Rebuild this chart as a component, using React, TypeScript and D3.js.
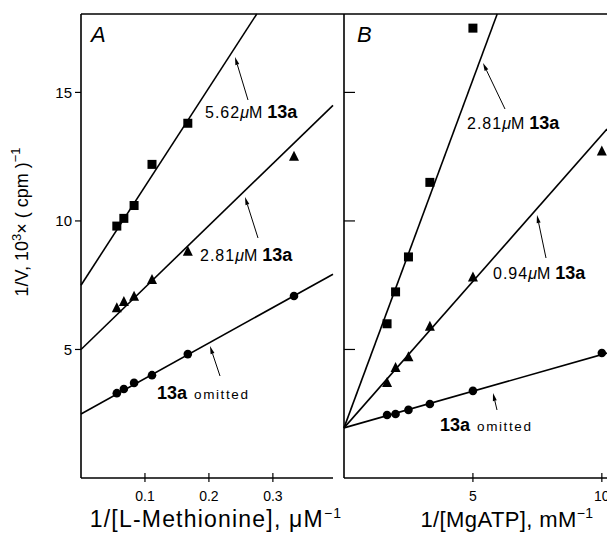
import React from 'react';
import * as d3 from 'd3';

// Panel A: 1/[L-Methionine] (uM^-1)
const metX = [0.056, 0.067, 0.083, 0.111, 0.167, 0.333];
const metSquares = [9.8, 10.1, 10.6, 12.2, 13.8];
const metTriangles = [6.6, 6.85, 7.05, 7.7, 8.8, 12.5];
const metCircles = [3.3, 3.46, 3.7, 4.0, 4.82, 7.08];
// fitted lines [intercept, slope]
const metFits = [
  [7.5, 38.4],
  [5.0, 24.1],
  [2.49, 13.8],
];

// Panel B: 1/[MgATP] (mM^-1)
const atpX = [1.67, 2.0, 2.5, 3.33, 5.0, 10.0];
const atpSquares = [6.0, 7.24, 8.6, 11.5, 17.5];
const atpTriangles = [3.7, 4.28, 4.7, 5.88, 7.8, 12.7];
const atpCircles = [2.45, 2.49, 2.65, 2.88, 3.39, 4.86];
const atpFits = [
  [1.95, 2.71],
  [1.95, 1.14],
  [1.95, 0.285],
];

const yTicks = [5, 10, 15];
const metTicks = [0.1, 0.2, 0.3];
const atpTicks = [5, 10];

const FONT = '"Liberation Sans", Arial, sans-serif';

const y = d3.scaleLinear().domain([0, 18.05]).range([478, 14]);
const xA = d3.scaleLinear().domain([0, 0.394]).range([81, 333]);
const xB = d3.scaleLinear().domain([0, 10.2]).range([344, 607]);

function Square({ cx, cy }: { cx: number; cy: number }) {
  return <rect x={cx - 4.5} y={cy - 4.5} width={9} height={9} fill="#000" />;
}
function Tri({ cx, cy }: { cx: number; cy: number }) {
  return <path d={`M${cx},${cy - 6}L${cx + 5},${cy + 4}L${cx - 5},${cy + 4}Z`} fill="#000" />;
}
function Dot({ cx, cy }: { cx: number; cy: number }) {
  return <circle cx={cx} cy={cy} r={4.3} fill="#000" />;
}

function Arrow({ x1, y1, x2, y2 }: { x1: number; y1: number; x2: number; y2: number }) {
  const a = Math.atan2(y2 - y1, x2 - x1);
  const L = 8;
  const w = 2;
  const bx = x2 - L * Math.cos(a);
  const by = y2 - L * Math.sin(a);
  const px = -Math.sin(a) * w;
  const py = Math.cos(a) * w;
  return (
    <g>
      <line x1={x1} y1={y1} x2={bx} y2={by} stroke="#000" strokeWidth={1} />
      <path d={`M${x2},${y2}L${bx + px},${by + py}L${bx - px},${by - py}Z`} fill="#000" />
    </g>
  );
}

function Conc({ x, yb, conc }: { x: number; yb: number; conc: string }) {
  return (
    <text x={x} y={yb} fontFamily={FONT} fontSize={16}>
      <tspan letterSpacing={1}>{conc}</tspan>
      <tspan fontStyle="italic">μ</tspan>
      <tspan>M</tspan>
      <tspan dx={5} fontSize={18} fontWeight="bold">13a</tspan>
    </text>
  );
}

function Omitted({ x, yb }: { x: number; yb: number }) {
  return (
    <text x={x} y={yb} fontFamily={FONT} fontSize={13.5}>
      <tspan fontSize={18} fontWeight="bold">13a</tspan>
      <tspan dx={7} letterSpacing={1.6}>omitted</tspan>
    </text>
  );
}

function Panel({ x, xs, squares, triangles, circles, fits }: any) {
  const [x0, x1] = x.domain();
  const yMax = y.domain()[1];
  return (
    <g>
      {fits.map(([b, m]: number[], i: number) => {
        const xEnd = Math.min(x1, (yMax - b) / m);
        const line = d3
          .line<number>()
          .x((v) => x(v))
          .y((v) => y(b + m * v));
        return <path key={i} d={line([x0, xEnd]) || ''} stroke="#000" strokeWidth={1.6} fill="none" />;
      })}
      {squares.map((v: number, i: number) => (
        <Square key={'s' + i} cx={x(xs[i])} cy={y(v)} />
      ))}
      {triangles.map((v: number, i: number) => (
        <Tri key={'t' + i} cx={x(xs[i])} cy={y(v)} />
      ))}
      {circles.map((v: number, i: number) => (
        <Dot key={'c' + i} cx={x(xs[i])} cy={y(v)} />
      ))}
    </g>
  );
}

export default function App() {
  return (
    <svg width={607} height={537} style={{ position: 'absolute', left: 0, top: 0, background: '#fff' }}>
      <rect width={607} height={537} fill="#fff" />
      {/* frame */}
      <line x1={81} y1={14} x2={607} y2={14} stroke="#000" strokeWidth={1.5} />
      <line x1={81} y1={14} x2={81} y2={478} stroke="#000" strokeWidth={1.6} />
      <line x1={81} y1={478} x2={333} y2={478} stroke="#000" strokeWidth={1.6} />
      <line x1={344} y1={14} x2={344} y2={478} stroke="#000" strokeWidth={1.6} />
      <line x1={344} y1={478} x2={607} y2={478} stroke="#000" strokeWidth={1.6} />

      {/* y ticks */}
      {yTicks.map((t) => (
        <g key={t}>
          <line x1={75} x2={81} y1={y(t)} y2={y(t)} stroke="#000" strokeWidth={1.2} />
          <text x={72} y={y(t)} dy="0.35em" textAnchor="end" fontFamily={FONT} fontSize={15}>
            {t}
          </text>
          <line x1={344} x2={355} y1={y(t)} y2={y(t)} stroke="#000" strokeWidth={1.2} />
        </g>
      ))}
      {metTicks.map((t) => (
        <g key={t}>
          <line x1={xA(t)} x2={xA(t)} y1={473} y2={482} stroke="#000" strokeWidth={1.2} />
          <text x={xA(t)} y={496} dy="0.35em" textAnchor="middle" fontFamily={FONT} fontSize={14}>
            {t.toFixed(1)}
          </text>
        </g>
      ))}
      {atpTicks.map((t) => (
        <g key={t}>
          <line x1={xB(t)} x2={xB(t)} y1={473} y2={482} stroke="#000" strokeWidth={1.2} />
          <text x={xB(t)} y={496} dy="0.35em" textAnchor="middle" fontFamily={FONT} fontSize={14}>
            {t}
          </text>
        </g>
      ))}

      <Panel x={xA} xs={metX} squares={metSquares} triangles={metTriangles} circles={metCircles} fits={metFits} />
      <Panel x={xB} xs={atpX} squares={atpSquares} triangles={atpTriangles} circles={atpCircles} fits={atpFits} />

      {/* panel letters */}
      <text x={91} y={42} fontFamily={FONT} fontSize={22} fontStyle="italic">A</text>
      <text x={357} y={42} fontFamily={FONT} fontSize={22} fontStyle="italic">B</text>

      {/* annotations A */}
      <Arrow x1={248} y1={100} x2={235} y2={57} />
      <Conc x={205} yb={118} conc="5.62" />
      <Arrow x1={258} y1={238} x2={245} y2={197} />
      <Conc x={200} yb={261} conc="2.81" />
      <Arrow x1={220} y1={376} x2={210} y2={346} />
      <Omitted x={157} yb={399} />

      {/* annotations B */}
      <Arrow x1={505} y1={109} x2={483} y2={63} />
      <Conc x={467} yb={129} conc="2.81" />
      <Arrow x1={546} y1={258} x2={537} y2={215} />
      <Conc x={493} yb={279} conc="0.94" />
      <Arrow x1={497} y1={410} x2={493} y2={393} />
      <Omitted x={440} yb={431} />

      {/* axis titles */}
      <text
        transform="translate(28,222) rotate(-90)"
        textAnchor="middle"
        fontFamily={FONT}
        fontSize={18}
      >
        1/V, 10<tspan dy={-7} fontSize={13}>3</tspan>
        <tspan dy={7}>× ( cpm )</tspan>
        <tspan dy={-8} fontSize={13}>−1</tspan>
      </text>
      <text x={216} y={527} textAnchor="middle" fontFamily={FONT} fontSize={23} letterSpacing={1.2}>
        1/[L-Methionine], μM<tspan dy={-9} fontSize={14}>−1</tspan>
      </text>
      <text x={507} y={527} textAnchor="middle" fontFamily={FONT} fontSize={22} letterSpacing={0.4}>
        1/[MgATP], mM<tspan dy={-9} fontSize={14}>−1</tspan>
      </text>
    </svg>
  );
}
